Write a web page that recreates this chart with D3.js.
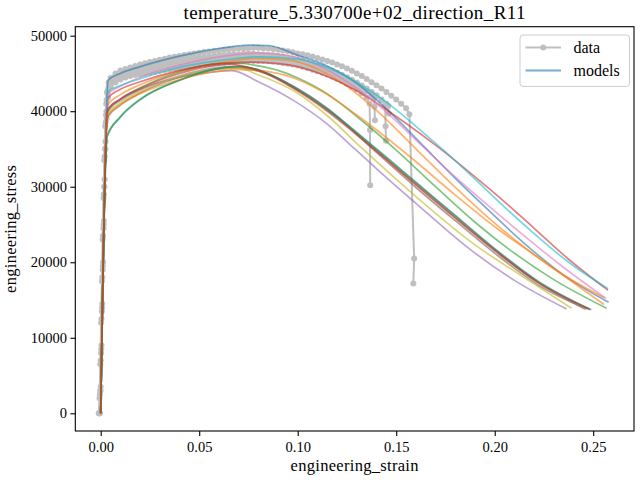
<!DOCTYPE html>
<html><head><meta charset="utf-8">
<script src="https://cdn.jsdelivr.net/npm/d3@7"></script>
<style>
body{margin:0;background:#fff}
text{font-family:"Liberation Serif","Times New Roman",serif;fill:#000}
</style>
</head><body>
<svg id="chart" width="640" height="480"></svg>
<script>
// ---------- labels & ticks ----------
const titleText = "temperature_5.330700e+02_direction_R11";
const xLabelText = "engineering_strain";
const yLabelText = "engineering_stress";
const xTickValues = [0, 0.05, 0.10, 0.15, 0.20, 0.25];
const yTickValues = [0, 10000, 20000, 30000, 40000, 50000];
const xDomain = [-0.0129, 0.2707];
const yDomain = [-2344, 51190];
const legendLabels = ["data", "models"];

// ---------- experimental data ----------
// strain grid of the plastic part (shared by the five tests)
const bandStrain = [0.005,0.0075,0.01,0.0125,0.015,0.0175,0.02,0.0225,0.025,0.0275,
 0.03,0.0325,0.035,0.0375,0.04,0.0425,0.045,0.0475,0.05,0.0525,
 0.055,0.0575,0.06,0.0625,0.065,0.0675,0.07,0.0725,0.075,0.0775,
 0.08,0.0825,0.085,0.0875,0.09,0.0925,0.095,0.0975,0.10,0.1025,
 0.105,0.1075,0.11,0.1125,0.115,0.1175,0.12,0.1225,0.125,0.1275,
 0.13,0.1325,0.135,0.1375,0.14,0.1425,0.145,0.1475,0.15,0.1525,0.155];

// elastic part (strain, stress)
const exp1Elastic = [[-0.0006,0],[-0.0002,3000],[0.0002,8000],[0.0006,13500],[0.001,19000],[0.0014,24500],[0.0018,30000],[0.0022,35000],[0.0027,39500],[0.0032,42500],[0.004,43800]];
const exp2Elastic = [[-0.0008,0],[-0.0004,2500],[0,7000],[0.0004,12500],[0.0008,18000],[0.0012,23500],[0.0016,29000],[0.002,34000],[0.0025,38500],[0.003,41500],[0.004,43200]];
const exp3Elastic = [[-0.0004,0],[0,3500],[0.0004,9000],[0.0008,14500],[0.0012,20000],[0.0016,25500],[0.002,31000],[0.0024,36000],[0.0029,40000],[0.0035,42300],[0.0045,43600]];
const exp4Elastic = [[-0.001,0],[-0.0006,2000],[-0.0002,6500],[0.0002,12000],[0.0006,17500],[0.001,23000],[0.0014,28500],[0.0018,33500],[0.0023,38000],[0.0028,41000],[0.0036,42800]];
const exp5Elastic = [[-0.0005,0],[-0.0001,3000],[0.0003,8500],[0.0007,14000],[0.0011,19500],[0.0015,25000],[0.0019,30000],[0.0024,35000],[0.003,39000],[0.0037,41800]];

// plastic part: stress on bandStrain until failure
const exp1Stress = [44400,45000,45400,45600,45800,46000,46200,46350,46500,46650,
 46800,46950,47100,47200,47300,47450,47550,47650,47750,47850,
 47900,48000,48050,48150,48200,48250,48300,48350,48350,48400,
 48400,48350,48300,48250,48150,48050,47950,47800,47650,47550,
 47400,47250,47050,46850,46650,46450,46200,45950,45650,45350,
 45000,44650,44250,43850,43450,43000,42550,42050,41550,41000,40400];
const exp2Stress = [43800,44400,44800,45000,45200,45350,45500,45650,45800,45900,
 46050,46200,46300,46400,46500,46600,46700,46800,46900,47000,
 47050,47150,47200,47250,47300,47350,47400,47450,47450,47450,
 47450,47450,47400,47350,47250,47150,47050,46950,46800,46650,
 46450,46250,46050,45850,45600,45350,45100,44800,44500,44150,
 43800,43400,43000,42550,42100,41550,41000];
const exp3Stress = [43900,44400,44850,45100,45300,45500,45700,45850,46000,46150,
 46300,46450,46550,46650,46750,46850,46950,47050,47100,47200,
 47250,47350,47400,47450,47500,47550,47550,47600,47600,47600,
 47550,47500,47450,47400,47300,47200,47050,46900,46750,46600,
 46400,46200,46000,45800,45550,45300,45000,44700,44400,44050,
 43700,43300,42900,42450,42000,41500];
const exp4Stress = [43500,44100,44500,44700,44900,45050,45200,45350,45500,45650,
 45750,45900,46000,46100,46200,46300,46400,46500,46600,46700,
 46750,46850,46900,46950,47000,47050,47100,47150,47150,47150,
 47150,47150,47100,47050,46950,46850,46750,46650,46500,46350,
 46150,45950,45750,45550,45300,45050,44800,44500,44200,43850,
 43500,43100,42600,42100];
const exp5Stress = [43300,43800,44200,44450,44650,44800,44900,45000,45100,45250,
 45350,45450,45550,45650,45750,45850,45950,46000,46100,46200,
 46250,46350,46400,46450,46500,46550,46600,46650,46650,46650,
 46650,46650,46600,46550,46500,46400,46300,46200,46050,45900,
 45700,45500,45300,45100,44850,44600,44300,44000,43650,43300,
 42900,42400,41800];

// failure drop (strain, stress)
const exp1Failure = [[0.1567,39600],[0.1591,20500],[0.1587,17200]];
const exp2Failure = [[0.146,40700],[0.1462,39700]];
const exp3Failure = [[0.1444,40900],[0.1446,38000],[0.1448,36100]];
const exp4Failure = [[0.1388,41700],[0.139,40600],[0.1392,38800]];
const exp5Failure = [[0.1365,41000],[0.1367,37500],[0.1368,30200]];

const experiments = [
  [exp1Elastic, exp1Stress, exp1Failure],
  [exp2Elastic, exp2Stress, exp2Failure],
  [exp3Elastic, exp3Stress, exp3Failure],
  [exp4Elastic, exp4Stress, exp4Failure],
  [exp5Elastic, exp5Stress, exp5Failure]
].map(([el, st, fa]) => el.concat(st.map((v, i) => [bandStrain[i], v]), fa));

// ---------- model curves (strain, stress) ----------
const modelBlue = [[0,0],[0.0038,44100],[0.01,45000],[0.02,45900],[0.04,47300],[0.06,48300],[0.075,48750],[0.085,48700],[0.10,47400],[0.115,46000],[0.13,43700],[0.145,40300],[0.163,35600],[0.18,31100],[0.1976,26700],[0.215,22500],[0.235,18300],[0.2578,14700]];
const modelOrange = [[0,0],[0.0035,40800],[0.01,42200],[0.02,43500],[0.04,45300],[0.06,46400],[0.08,47000],[0.095,46800],[0.11,45600],[0.125,43300],[0.14,40100],[0.1606,34860],[0.18,29900],[0.1976,25700],[0.215,22000],[0.235,18300],[0.2555,15300]];
const modelGreen = [[0,0],[0.0034,39800],[0.01,41600],[0.02,43100],[0.04,45200],[0.06,46300],[0.07,46350],[0.08,46000],[0.09,45400],[0.10,44400],[0.115,42300],[0.13,39300],[0.15,34860],[0.17,30000],[0.19,25300],[0.21,21200],[0.23,17700],[0.2568,13900]];
const modelRed = [[0,0],[0.0036,41700],[0.01,42900],[0.02,43900],[0.04,45400],[0.06,46300],[0.075,46500],[0.09,46300],[0.10,45900],[0.115,44600],[0.13,42700],[0.15,39300],[0.17,35500],[0.19,31300],[0.205,28000],[0.22,24500],[0.2375,20400],[0.2575,16300]];
const modelPurple = [[0,0],[0.0035,40200],[0.01,41600],[0.02,42900],[0.04,44500],[0.055,45150],[0.0665,45370],[0.08,43900],[0.0986,41300],[0.115,38300],[0.129,35000],[0.145,31200],[0.16,27800],[0.1875,21700],[0.21,17600],[0.2365,13800]];
const modelBrown = [[0,0],[0.0034,39100],[0.01,40800],[0.02,42400],[0.04,44500],[0.06,45600],[0.07,45750],[0.08,45300],[0.0986,43200],[0.115,40400],[0.138,35000],[0.16,29900],[0.18,25500],[0.2,21200],[0.222,17000],[0.247,13800]];
const modelPink = [[0,0],[0.0036,42200],[0.01,43300],[0.02,44500],[0.04,46100],[0.06,47200],[0.08,47700],[0.095,47400],[0.11,46100],[0.125,43900],[0.14,41000],[0.164,35200],[0.18,31300],[0.1976,27300],[0.215,23500],[0.235,19300],[0.2565,15200]];
const modelGray = [[0,0],[0.0034,39900],[0.01,41400],[0.02,42800],[0.04,44700],[0.06,45800],[0.07,45900],[0.08,45400],[0.0986,43100],[0.115,40200],[0.139,35000],[0.16,30200],[0.18,25800],[0.2,21500],[0.222,17300],[0.246,13750]];
const modelOlive = [[0,0],[0.0034,39500],[0.01,41100],[0.02,42600],[0.04,44600],[0.06,45600],[0.07,45700],[0.08,44800],[0.0986,42600],[0.115,39400],[0.133,35000],[0.16,28700],[0.19,22300],[0.213,18300],[0.239,13900]];
const modelCyan = [[0,0],[0.0037,42600],[0.01,43400],[0.02,44300],[0.04,45800],[0.06,46700],[0.08,47200],[0.10,46900],[0.115,45800],[0.13,43800],[0.145,41200],[0.16,38000],[0.175,34600],[0.19,31000],[0.205,27300],[0.22,23800],[0.2375,20000],[0.2575,16500]];
const modelBlue2 = [[0,0],[0.0032,36600],[0.01,39200],[0.02,41500],[0.04,44100],[0.06,45700],[0.07,45950],[0.08,45500],[0.0986,43100],[0.115,40300],[0.14,35000],[0.16,30600],[0.18,26200],[0.2,21800],[0.222,17500],[0.249,13700]];
const modelOrange2 = [[0,0],[0.0034,39300],[0.01,40900],[0.02,42300],[0.04,44200],[0.06,45300],[0.07,45500],[0.08,45400],[0.09,45000],[0.10,44200],[0.115,42200],[0.13,39500],[0.155,34400],[0.18,28900],[0.2,24700],[0.22,21000],[0.2555,14400]];
const modelGreen2 = [[0,0],[0.0032,36700],[0.01,39300],[0.02,41600],[0.04,44100],[0.06,45650],[0.07,45900],[0.08,45450],[0.0986,43000],[0.115,40200],[0.1395,35000],[0.16,30500],[0.18,26100],[0.2,21700],[0.222,17400],[0.2485,13700]];
const modelRed2 = [[0,0],[0.0035,40200],[0.01,41600],[0.02,43000],[0.04,45000],[0.06,46100],[0.065,46200],[0.08,45400],[0.0986,42900],[0.115,40000],[0.1385,35000],[0.16,30300],[0.18,25900],[0.2,21600],[0.222,17300],[0.248,13800]];
const models = [modelBlue, modelOrange, modelGreen, modelRed, modelPurple, modelBrown, modelPink, modelGray, modelOlive, modelCyan, modelBlue2, modelOrange2, modelGreen2, modelRed2];
const modelColors = ["#1f77b4","#ff7f0e","#2ca02c","#d62728","#9467bd","#8c564b","#e377c2","#7f7f7f","#bcbd22","#17becf","#1f77b4","#ff7f0e","#2ca02c","#d62728"];
const dataColor = "#bfbfbf";

// ---------- drawing ----------
const svg = d3.select("#chart");
const plot = {left: 75.3, right: 634, top: 26.7, bottom: 431};
const x = d3.scaleLinear().domain(xDomain).range([plot.left, plot.right]);
const y = d3.scaleLinear().domain(yDomain).range([plot.bottom, plot.top]);

svg.append("rect").attr("width", 640).attr("height", 480).attr("fill", "#fff");

svg.append("defs").append("clipPath").attr("id", "clip")
  .append("rect").attr("x", plot.left).attr("y", plot.top)
  .attr("width", plot.right - plot.left).attr("height", plot.bottom - plot.top);

const g = svg.append("g").attr("clip-path", "url(#clip)");

const dataLine = d3.line().x(d => x(d[0])).y(d => y(d[1]));
experiments.forEach(exp => {
  g.append("path").datum(exp).attr("d", dataLine)
    .attr("fill", "none").attr("stroke", dataColor).attr("stroke-width", 2)
    .attr("stroke-linejoin", "round");
  g.append("g").selectAll("circle").data(exp).join("circle")
    .attr("cx", d => x(d[0])).attr("cy", d => y(d[1])).attr("r", 3)
    .attr("fill", dataColor);
});

const modelLine = d3.line().x(d => x(d[0])).y(d => y(d[1])).curve(d3.curveMonotoneX);
models.forEach((m, i) => {
  g.append("path").datum(m).attr("d", modelLine)
    .attr("fill", "none").attr("stroke", modelColors[i])
    .attr("stroke-opacity", 0.6).attr("stroke-width", 1.7);
});

// axes
const xAxis = d3.axisBottom(x).tickValues(xTickValues).tickFormat(d3.format(".2f")).tickSize(4.9).tickPadding(3.5);
const yAxis = d3.axisLeft(y).tickValues(yTickValues).tickFormat(d3.format("d")).tickSize(4.9).tickPadding(3.5);
const gx = svg.append("g").attr("transform", `translate(0,${plot.bottom})`).call(xAxis);
const gy = svg.append("g").attr("transform", `translate(${plot.left},0)`).call(yAxis);
[gx, gy].forEach(a => {
  a.select(".domain").remove();
  a.selectAll(".tick line").attr("stroke", "#000").attr("stroke-width", 1.1);
  a.selectAll(".tick text").attr("font-family", "Liberation Serif, serif").attr("font-size", 14.5).attr("fill", "#000");
});
gx.selectAll(".tick text").attr("dy", "0.85em");

svg.append("rect").attr("x", plot.left).attr("y", plot.top)
  .attr("width", plot.right - plot.left).attr("height", plot.bottom - plot.top)
  .attr("fill", "none").attr("stroke", "#000").attr("stroke-width", 1.1);

// title & labels
svg.append("text").attr("x", (plot.left + plot.right) / 2).attr("y", 19)
  .attr("text-anchor", "middle").attr("font-size", 19).attr("letter-spacing", 0.4).text(titleText);
svg.append("text").attr("x", (plot.left + plot.right) / 2).attr("y", 471)
  .attr("text-anchor", "middle").attr("font-size", 16.5).attr("letter-spacing", 0.3).text(xLabelText);
svg.append("text").attr("transform", `translate(16,${(plot.top + plot.bottom) / 2}) rotate(-90)`)
  .attr("text-anchor", "middle").attr("font-size", 16.5).attr("letter-spacing", 0.3).text(yLabelText);

// legend
const lg = svg.append("g");
lg.append("rect").attr("x", 520).attr("y", 35).attr("width", 109.5).attr("height", 51.4)
  .attr("rx", 3).attr("fill", "#fff").attr("fill-opacity", 0.8)
  .attr("stroke", "#cccccc").attr("stroke-width", 1);
const legendY = [47.5, 70.5];
lg.append("line").attr("x1", 525.5).attr("x2", 561).attr("y1", legendY[0]).attr("y2", legendY[0])
  .attr("stroke", dataColor).attr("stroke-width", 2);
lg.append("circle").attr("cx", 543.2).attr("cy", legendY[0]).attr("r", 3).attr("fill", dataColor);
lg.append("line").attr("x1", 525.5).attr("x2", 561).attr("y1", legendY[1]).attr("y2", legendY[1])
  .attr("stroke", modelColors[0]).attr("stroke-opacity", 0.6).attr("stroke-width", 2);
legendLabels.forEach((t, i) => {
  lg.append("text").attr("x", 573.5).attr("y", legendY[i] + 5).attr("font-size", 16).text(t);
});
</script>
</body></html>
